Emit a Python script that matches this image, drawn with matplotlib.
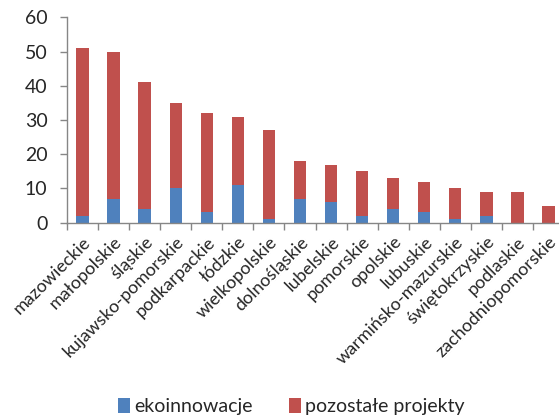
import matplotlib
matplotlib.use("Agg")
import matplotlib.pyplot as plt
import numpy as np

categories = ["mazowieckie", "małopolskie", "śląskie", "kujawsko-pomorskie", "podkarpackie",
              "łódzkie", "wielkopolskie", "dolnośląskie", "lubelskie", "pomorskie", "opolskie",
              "lubuskie", "warmińsko-mazurskie", "świętokrzyskie", "podlaskie", "zachodniopomorskie"]
ekoinnowacje = [2, 7, 4, 10, 3, 11, 1, 7, 6, 2, 4, 3, 1, 2, 0, 0]
totals = [51, 50, 41, 35, 32, 31, 27, 18, 17, 15, 13, 12, 10, 9, 9, 5]
pozostale = [t - e for t, e in zip(totals, ekoinnowacje)]
yticks = [0, 10, 20, 30, 40, 50, 60]

plt.rcParams['font.family'] = ['Lato', 'DejaVu Sans']
fig = plt.figure(figsize=(5.59, 4.16), dpi=100)
ax = fig.add_axes([67/559, 1-222.7/416, 497/559, (222.7-17.3)/416])

x = np.arange(len(categories))
blue = "#4F81BD"
red = "#C0504D"
ax.bar(x, ekoinnowacje, width=0.4, color=blue, label="ekoinnowacje", zorder=2)
ax.bar(x, pozostale, width=0.4, bottom=ekoinnowacje, color=red, label="pozostałe projekty", zorder=2)

ax.set_xlim(-0.5, len(categories) - 0.5)
ax.set_ylim(0, 60)
ax.set_yticks(yticks)
ax.set_yticklabels([str(v) for v in yticks], fontsize=14, color="#262626")

ax.set_xticks(x)
ax.set_xticklabels(categories, rotation=45, ha='right', rotation_mode='anchor', fontsize=13, color="#262626")
ax.tick_params(axis='x', which='major', length=0, pad=8)
ax.set_xticks(np.arange(-0.5, len(categories), 1), minor=True)
ax.tick_params(axis='x', which='minor', length=5, color="#868686", width=1, direction='out')
ax.tick_params(axis='y', length=5, color="#868686", width=1, direction='out', pad=9)

for s in ['top', 'right']:
    ax.spines[s].set_visible(False)
for s in ['left', 'bottom']:
    ax.spines[s].set_color("#868686")
    ax.spines[s].set_linewidth(1)

fig.legend(loc='center', bbox_to_anchor=(0.521, 0.022), ncol=2, frameon=False,
           fontsize=14, handlelength=0.6, handleheight=0.8, handletextpad=0.2, columnspacing=1.9,
           labelcolor="#262626")

fig.savefig("out.png", dpi=100)
